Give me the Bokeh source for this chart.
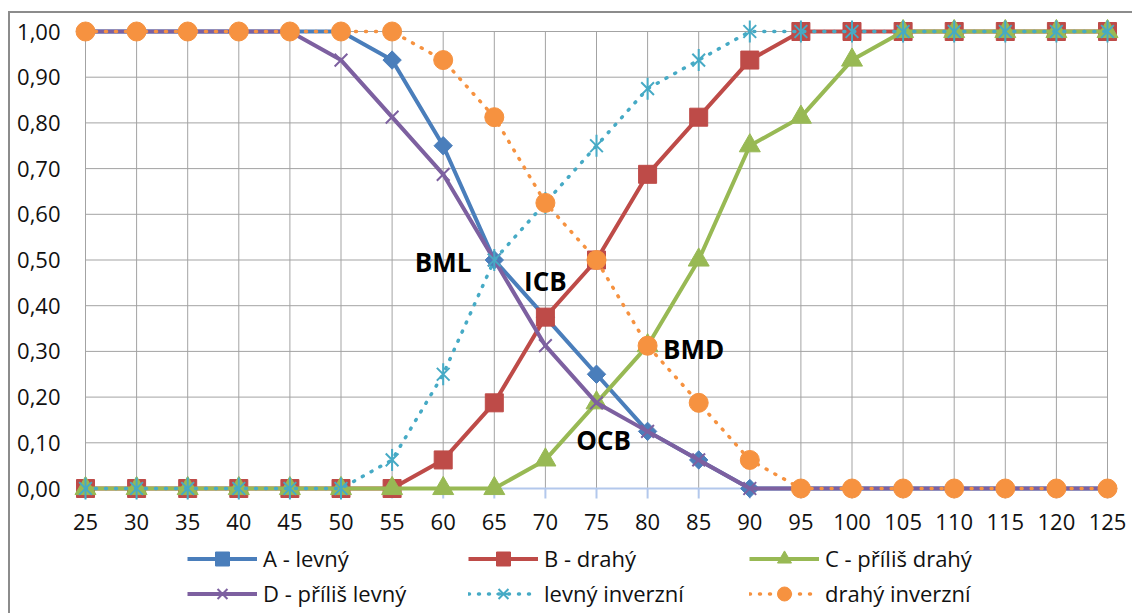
import math

from bokeh.core.properties import value
from bokeh.embed import file_html
from bokeh.models import (CustomJSTickFormatter, FixedTicker, Legend,
                          LegendItem, Range1d)
from bokeh.plotting import figure
from bokeh.resources import INLINE

# Price points (CZK) and cumulative shares of respondents
prices = [25, 30, 35, 40, 45, 50, 55, 60, 65, 70, 75, 80, 85, 90, 95, 100,
          105, 110, 115, 120, 125]

a_levny = [1, 1, 1, 1, 1, 1, 0.9375, 0.75, 0.5, 0.375, 0.25, 0.125, 0.0625,
           0, 0, 0, 0, 0, 0, 0, 0]
b_drahy = [0, 0, 0, 0, 0, 0, 0, 0.0625, 0.1875, 0.375, 0.5, 0.6875, 0.8125,
           0.9375, 1, 1, 1, 1, 1, 1, 1]
c_prilis_drahy = [0, 0, 0, 0, 0, 0, 0, 0, 0, 0.0625, 0.1875, 0.3125, 0.5,
                  0.75, 0.8125, 0.9375, 1, 1, 1, 1, 1]
d_prilis_levny = [1, 1, 1, 1, 1, 0.9375, 0.8125, 0.6875, 0.5, 0.3125, 0.1875,
                  0.125, 0.0625, 0, 0, 0, 0, 0, 0, 0, 0]
levny_inverzni = [0, 0, 0, 0, 0, 0, 0.0625, 0.25, 0.5, 0.625, 0.75, 0.875,
                  0.9375, 1, 1, 1, 1, 1, 1, 1, 1]
drahy_inverzni = [1, 1, 1, 1, 1, 1, 1, 0.9375, 0.8125, 0.625, 0.5, 0.3125,
                  0.1875, 0.0625, 0, 0, 0, 0, 0, 0, 0]

series_names = ["A - levný", "B - drahý", "C - příliš drahý",
                "D - příliš levný", "levný inverzní", "drahý inverzní"]

y_ticks = [0.0, 0.1, 0.2, 0.3, 0.4, 0.5, 0.6, 0.7, 0.8, 0.9, 1.0]

# Point labels: name and where the text sits (price, share)
point_labels = ["BML", "ICB", "BMD", "OCB"]
label_x = [60.0, 70.0, 84.5, 75.7]
label_y = [0.495, 0.455, 0.305, 0.107]

FONT = "Open Sans"
GRID = "#a3a3a3"
AXIS_BLUE = "#b3c8ec"

# pixels per unit on each scale; the plot frame keeps a little room around
# the data (more on the right for the last price label) and reaches down
# far enough to hold the price labels and the legend
PX_PER_X = 10.22
PX_PER_Y = 457.0
PAD_PX = 15
PAD_RIGHT_PX = 25
pad_x = PAD_PX / PX_PER_X
pad_x_right = PAD_RIGHT_PX / PX_PER_X
pad_y = PAD_PX / PX_PER_Y
tick_len = 10 / PX_PER_Y

frame_w = round((prices[-1] - prices[0]) * PX_PER_X) + PAD_PX + PAD_RIGHT_PX
frame_h = 600
y_top = y_ticks[-1] + pad_y
y_bottom = y_top - frame_h / PX_PER_Y

p = figure(frame_width=frame_w, frame_height=frame_h,
           output_backend="svg", toolbar_location=None,
           x_range=Range1d(prices[0] - pad_x, prices[-1] + pad_x_right),
           y_range=Range1d(y_bottom, y_top),
           min_border_left=60, min_border_right=0, min_border_top=3,
           margin=(13, 0, 0, 10),
           background_fill_color=None, border_fill_color=None)
p.styles = {"outline": "2px solid #8c8c8c"}
p.outline_line_color = None
p.xgrid.visible = False
p.ygrid.visible = False

# plot-area grid
p.segment(x0=prices, y0=[y_ticks[0]] * len(prices), x1=prices,
          y1=[y_ticks[-1]] * len(prices), line_color=GRID, line_width=1)
p.segment(x0=[prices[0]] * (len(y_ticks) - 1), y0=y_ticks[1:],
          x1=[prices[-1]] * (len(y_ticks) - 1), y1=y_ticks[1:],
          line_color=GRID, line_width=1)
# category axis along zero with its tick marks, under the series
p.segment(x0=[prices[0]], y0=[y_ticks[0]], x1=[prices[-1]], y1=[y_ticks[0]],
          line_color=AXIS_BLUE, line_width=2)
p.segment(x0=prices, y0=[y_ticks[0]] * len(prices), x1=prices,
          y1=[y_ticks[0] - tick_len] * len(prices),
          line_color=AXIS_BLUE, line_width=2)

# axes: the price axis sits on the zero line
xa = p.xaxis[0]
xa.ticker = FixedTicker(ticks=prices)
xa.fixed_location = y_ticks[0]
xa.axis_line_color = None
xa.major_tick_line_color = None
xa.minor_tick_line_color = None
xa.major_tick_in = 0
xa.major_tick_out = 0
xa.major_label_standoff = 25
xa.major_label_text_font = FONT
xa.major_label_text_font_size = "22px"
xa.major_label_text_color = "#111111"

ya = p.yaxis[0]
ya.ticker = FixedTicker(ticks=y_ticks)
ya.formatter = CustomJSTickFormatter(code="return tick.toFixed(2).replace('.', ',')")
ya.axis_line_color = None
ya.major_tick_line_color = None
ya.minor_tick_line_color = None
ya.major_tick_in = 0
ya.major_tick_out = 0
ya.major_label_standoff = 10
ya.major_label_text_font = FONT
ya.major_label_text_font_size = "22px"
ya.major_label_text_color = "#111111"

items = []

# A - levný
l = p.line(prices, a_levny, line_color="#4a7ebb", line_width=4)
m = p.scatter(prices, a_levny, marker="square", angle=math.pi / 4, size=13,
              fill_color="#4a7ebb", line_color="#4a7ebb")
items.append(LegendItem(label=series_names[0], renderers=[l, m]))

# B - drahý
l = p.line(prices, b_drahy, line_color="#be4b48", line_width=4)
m = p.scatter(prices, b_drahy, marker="square", size=18,
              fill_color="#be4b48", line_color="#be4b48")
items.append(LegendItem(label=series_names[1], renderers=[l, m]))

# C - příliš drahý
l = p.line(prices, c_prilis_drahy, line_color="#98b954", line_width=4)
m = p.scatter(prices, c_prilis_drahy, marker="triangle", size=21,
              fill_color="#98b954", line_color="#98b954")
items.append(LegendItem(label=series_names[2], renderers=[l, m]))

# D - příliš levný
l = p.line(prices, d_prilis_levny, line_color="#7d60a0", line_width=4)
m = p.scatter(prices, d_prilis_levny, marker="x", size=18,
              line_color="#7d60a0", line_width=2)
items.append(LegendItem(label=series_names[3], renderers=[l, m]))

# levný inverzní
l = p.line(prices, levny_inverzni, line_color="#46aac5", line_width=3.5,
           line_dash="1 9", line_cap="round")
m1 = p.scatter(prices, levny_inverzni, marker="x", size=18,
               line_color="#46aac5", line_width=2)
m2 = p.scatter(prices, levny_inverzni, marker="dash", angle=math.pi / 2,
               size=22, line_color="#46aac5", line_width=2)
items.append(LegendItem(label=series_names[4], renderers=[l, m1, m2]))

# drahý inverzní
l = p.line(prices, drahy_inverzni, line_color="#f69240", line_width=3.5,
           line_dash="1 9", line_cap="round")
m = p.scatter(prices, drahy_inverzni, marker="circle", size=19,
              fill_color="#f69240", line_color="#f69240")
items.append(LegendItem(label=series_names[5], renderers=[l, m]))

# intersection labels
p.text(x=label_x, y=label_y, text=point_labels, text_font=value(FONT),
       text_font_style="bold", text_font_size="26px", text_color="#000000",
       text_align="center", text_baseline="middle")

# legend in two rows of three under the price labels
legend = Legend(items=items, orientation="horizontal", ncols=3,
                location=(117, 5.5), glyph_width=70, glyph_height=35,
                label_standoff=6, label_width=205, label_height=35,
                spacing=0, padding=0, margin=0,
                label_text_font=FONT, label_text_font_size="22px",
                label_text_color="#111111",
                border_line_color=None, background_fill_alpha=0)
p.add_layout(legend)

open("out.html", "w").write(file_html(p, INLINE))
